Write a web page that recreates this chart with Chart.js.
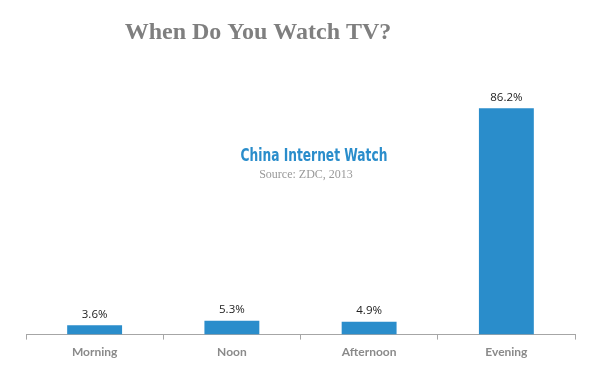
<!DOCTYPE html>
<html>
<head>
<meta charset="utf-8">
<script src="https://cdn.jsdelivr.net/npm/chart.js@4"></script>
<style>
  html, body { margin: 0; padding: 0; background: #fff; }
  #wrap { width: 600px; height: 377px; position: relative; }
</style>
</head>
<body>
<div id="wrap"><canvas id="tvChart"></canvas></div>
<script>
const categories = ['Morning', 'Noon', 'Afternoon', 'Evening'];
const shares     = [3.6, 5.3, 4.9, 86.2];

const BLUE = '#2a8dcb';
const GREY = '#8a8a8a';

// text on top of the bars plus the title and watermark
const overlay = {
  id: 'overlay',
  afterDatasetsDraw(chart) {
    const ctx = chart.ctx;
    const meta = chart.getDatasetMeta(0);
    ctx.save();
    ctx.textAlign = 'center';
    ctx.textBaseline = 'bottom';
    ctx.fillStyle = '#222';
    ctx.font = '11.5px "Open Sans", sans-serif';
    meta.data.forEach((bar, i) => {
      ctx.fillText(shares[i].toFixed(1) + '%', bar.x, bar.y - 5);
    });

    ctx.textBaseline = 'middle';
    ctx.fillStyle = '#7f7f7f';
    ctx.font = 'bold 24px "Liberation Serif", serif';
    ctx.fillText('When Do You Watch TV?', 258, 33);

    // condensed heavy watermark: squeeze a bold sans horizontally
    ctx.save();
    ctx.translate(314, 157);
    ctx.scale(0.72, 1);
    ctx.fillStyle = BLUE;
    ctx.font = 'bold 17px "DejaVu Sans", sans-serif';
    ctx.fillText('China Internet Watch', 0, 0);
    ctx.restore();

    ctx.fillStyle = '#999';
    ctx.font = '12px "Liberation Serif", serif';
    ctx.fillText('Source: ZDC, 2013', 306, 175);
    ctx.restore();
  }
};

new Chart(document.getElementById('tvChart'), {
  type: 'bar',
  data: {
    labels: categories,
    datasets: [{
      data: shares,
      backgroundColor: BLUE,
      borderWidth: 0,
      categoryPercentage: 1,
      barPercentage: 0.4
    }]
  },
  options: {
    responsive: true,
    maintainAspectRatio: false,
    animation: false,
    layout: { padding: { left: 26, right: 25, top: 72, bottom: 13 } },
    plugins: {
      legend: { display: false },
      tooltip: { enabled: false }
    },
    scales: {
      x: {
        grid: {
          offset: true,
          drawOnChartArea: false,
          tickLength: 5,
          color: '#a6a6a6'
        },
        border: { color: '#a6a6a6' },
        ticks: {
          color: GREY,
          padding: 5,
          font: { family: 'Lato', weight: 'bold', size: 12 }
        }
      },
      y: {
        display: false,
        min: 0,
        max: 100
      }
    }
  },
  plugins: [overlay]
});
</script>
</body>
</html>
